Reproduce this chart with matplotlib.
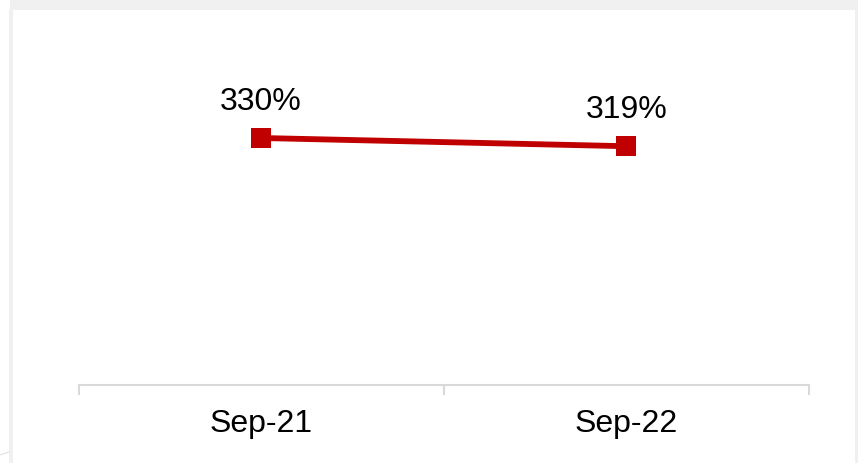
import matplotlib
matplotlib.use("Agg")
import matplotlib.pyplot as plt
from matplotlib.patches import Rectangle
from matplotlib.lines import Line2D

categories = ["Sep-21", "Sep-22"]
values = [330, 319]
labels = ["330%", "319%"]

W, H = 858, 463
fig = plt.figure(figsize=(W / 100, H / 100), dpi=100)
fig.patch.set_facecolor("white")

def fx(px):
    return px / W

def fy(py):
    return 1 - py / H

# frame decorations
fig.patches.append(Rectangle((fx(10), fy(10)), fx(848), 10 / H, transform=fig.transFigure,
                             facecolor="#f0f0f0", edgecolor="none", zorder=0))
fig.patches.append(Rectangle((fx(9), 0), fx(4), fy(10), transform=fig.transFigure,
                             facecolor="#f0f0f0", edgecolor="none", zorder=0))
fig.patches.append(Rectangle((fx(855), 0), fx(3), fy(10), transform=fig.transFigure,
                             facecolor="#f0f0f0", edgecolor="none", zorder=0))
fig.lines.append(Line2D([fx(0), fx(9)], [fy(455), fy(452)], transform=fig.transFigure,
                        color="#e0e0e0", lw=0.8))

# axes: bottom at y=385px, 0..400 scale
left, right = 78.5, 809
bottom = 385
ppu = 0.7485
top = bottom - ppu * 400
ax = fig.add_axes([fx(left), fy(bottom), fx(right - left), (bottom - top) / H])
ax.set_facecolor("none")
ax.set_xlim(-0.5, 1.5)
ax.set_ylim(0, 400)

x = list(range(len(categories)))
ax.plot(x, values, color="#c00000", lw=4.2, marker="s", markersize=14.5,
        markeredgewidth=0, solid_capstyle="butt", zorder=3)

for xi, v, lab in zip(x, values, labels):
    ax.annotate(lab, (xi, v), xytext=(0, 15), textcoords="offset points",
                ha="center", va="bottom", fontsize=23, family="Liberation Sans",
                color="black")

for s in ["top", "right", "left"]:
    ax.spines[s].set_visible(False)
ax.spines["bottom"].set_color("#d9d9d9")
ax.spines["bottom"].set_linewidth(1.5)
ax.set_yticks([])
ax.set_xticks([-0.5, 0.5, 1.5])
ax.set_xticklabels([])
ax.tick_params(axis="x", length=7.5, width=1.5, color="#d9d9d9")
ax.set_xticks(x, minor=True)
ax.set_xticklabels(categories, minor=True, fontsize=23, family="Liberation Sans")
ax.tick_params(axis="x", which="minor", length=0, pad=17.5)

fig.savefig("out.png", dpi=100)
